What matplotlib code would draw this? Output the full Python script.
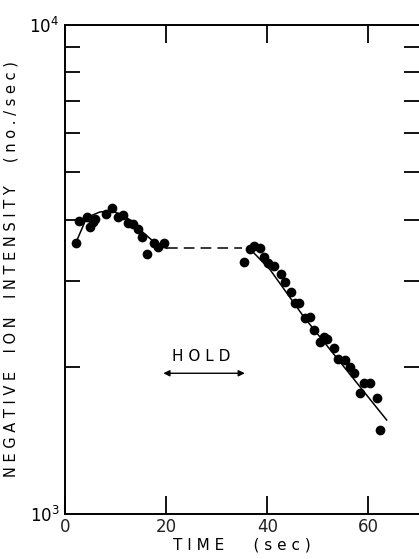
import numpy as np
import matplotlib
matplotlib.use('Agg')
import matplotlib.pyplot as plt
from matplotlib.ticker import LogLocator, NullFormatter, FixedLocator

# measured negative ion counts before the hold
t_before = [2.1, 2.8, 4.3, 5.0, 5.6, 5.9, 8.1, 9.3, 10.4, 11.4, 12.4, 13.5,
            14.4, 15.2, 16.3, 17.5, 18.4, 19.6]
n_before = [3578, 3980, 4055, 3868, 3960, 4006, 4107, 4219, 4055, 4094, 3931,
            3913, 3821, 3691, 3402, 3588, 3521, 3588]

# measured counts after the hold
t_after = [35.3, 36.5, 37.3, 38.5, 39.3, 40.1, 41.4, 42.7, 43.6, 44.6, 45.5,
           46.2, 47.5, 48.4, 49.3, 50.4, 51.3, 51.8, 53.1, 53.9, 55.3, 56.3,
           57.1, 59.1, 60.4, 58.3, 61.6, 62.2]
n_after = [3281, 3477, 3532, 3494, 3348, 3255, 3219, 3096, 2986, 2849, 2697,
           2697, 2513, 2532, 2379, 2251, 2305, 2277, 2189, 2072, 2065, 2001,
           1940, 1856, 1856, 1765, 1724, 1485]

# smooth curves drawn through the data
fit1_t = [2.1, 4.3, 6.9, 9.3, 11.9, 14.9, 17.8, 20.1]
fit1_n = [3578, 4040, 4146, 4166, 4068, 3808, 3584, 3494]
hold_t = [20.1, 35.0]
hold_n = [3494, 3494]
fit2_t = [36.6, 40.6, 47.2, 63.6]
fit2_n = [3483, 3155, 2532, 1557]

W, H = 419, 559
fig = plt.figure(figsize=(W / 100, H / 100), dpi=100)
ax = fig.add_axes([65 / W, 45 / H, 354 / W, 489 / H])

ax.plot(fit1_t, fit1_n, color='black', lw=1.1)
ax.plot(hold_t, hold_n, color='black', lw=1.1, dashes=(7, 4))
ax.plot(fit2_t, fit2_n, color='black', lw=1.1)
ax.plot(t_before, n_before, 'o', color='black', ms=7, mec='none')
ax.plot(t_after, n_after, 'o', color='black', ms=7, mec='none')

ax.set_yscale('log')
ax.set_xlim(0, 70)
ax.set_ylim(1e3, 1e4)

ax.xaxis.set_major_locator(FixedLocator([0, 20, 40, 60]))
ax.yaxis.set_major_locator(FixedLocator([1e3, 1e4]))
ax.yaxis.set_minor_locator(LogLocator(base=10, subs=np.arange(2, 10)))
ax.yaxis.set_minor_formatter(NullFormatter())
ax.set_yticklabels(['$10^3$', '$10^4$'])
ax.tick_params(axis='both', which='both', direction='in', top=True,
               right=True, width=1.3, color='black')
ax.tick_params(axis='x', which='major', length=13, labelsize=12, pad=3)
ax.tick_params(axis='y', which='major', length=0, labelsize=12, pad=4)
ax.tick_params(axis='y', which='minor', length=11)
for lab in ax.get_xticklabels():
    lab.set_color('#222222')

ax.spines['right'].set_visible(False)
for side in ['left', 'top', 'bottom']:
    ax.spines[side].set_linewidth(1.4)

ax.set_xlabel('T I M E      ( s e c )', fontsize=11, labelpad=1)
ax.set_ylabel('N E G A T I V E    I O N    I N T E N S I T Y     ( n o . / s e c )',
              fontsize=10.5, labelpad=8)

# hold period marker
ax.annotate('', xy=(18.9, 1940), xytext=(36.1, 1940),
            arrowprops=dict(arrowstyle='<|-|>', color='black', lw=1.0,
                            mutation_scale=9))
ax.text(27.0, 2104, 'H O L D', ha='center', va='center', fontsize=11)

fig.savefig('out.png', dpi=100)
